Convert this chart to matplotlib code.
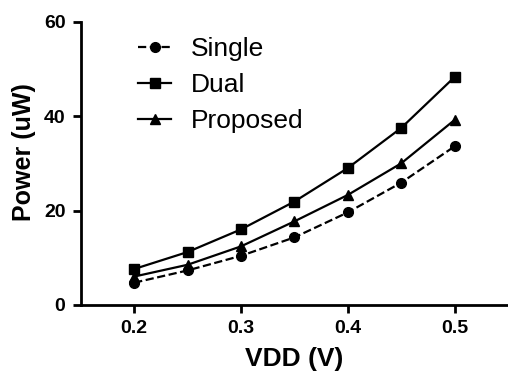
import matplotlib
matplotlib.use('Agg')
import matplotlib.pyplot as plt

vdd = [0.2, 0.25, 0.3, 0.35, 0.4, 0.45, 0.5]
single = [4.7, 7.3, 10.4, 14.3, 19.6, 25.9, 33.6]
dual = [7.6, 11.2, 16.0, 21.9, 29.0, 37.5, 48.3]
proposed = [6.0, 8.5, 12.4, 17.7, 23.3, 30.0, 39.2]

plt.rcParams['font.family'] = ['Liberation Sans', 'DejaVu Sans']

fig = plt.figure(figsize=(5.08, 3.83), dpi=100)
ax = fig.add_axes([0.159, 0.204, 0.841, 0.739])

ax.plot(vdd, single, color='black', linestyle='--', linewidth=1.6,
        marker='o', markersize=7, label='Single', clip_on=False)
ax.plot(vdd, dual, color='black', linestyle='-', linewidth=1.6,
        marker='s', markersize=7, label='Dual', clip_on=False)
ax.plot(vdd, proposed, color='black', linestyle='-', linewidth=1.6,
        marker='^', markersize=7, label='Proposed', clip_on=False)

ax.set_xlim(0.15, 0.55)
ax.set_ylim(0, 60)
ax.set_xticks([0.2, 0.3, 0.4, 0.5])
ax.set_yticks([0, 20, 40, 60])
ax.set_xticklabels(['0.2', '0.3', '0.4', '0.5'])

for side in ['top', 'right']:
    ax.spines[side].set_visible(False)
for side in ['left', 'bottom']:
    ax.spines[side].set_linewidth(2)

ax.tick_params(direction='out', length=6, width=2, labelsize=14, pad=5)
for lbl in ax.get_xticklabels() + ax.get_yticklabels():
    lbl.set_fontweight('bold')

ax.set_xlabel('VDD (V)', fontsize=19, fontweight='bold', labelpad=7)
ax.set_ylabel('Power (uW)', fontsize=18, fontweight='bold')
ax.yaxis.set_label_coords(-0.104, 0.54)

ax.legend(loc='upper left', bbox_to_anchor=(0.135, 0.945), frameon=False,
          fontsize=19, handlelength=1.25, labelspacing=0.45,
          handletextpad=0.75, borderpad=0, borderaxespad=0)

fig.savefig('out.png', dpi=100)
